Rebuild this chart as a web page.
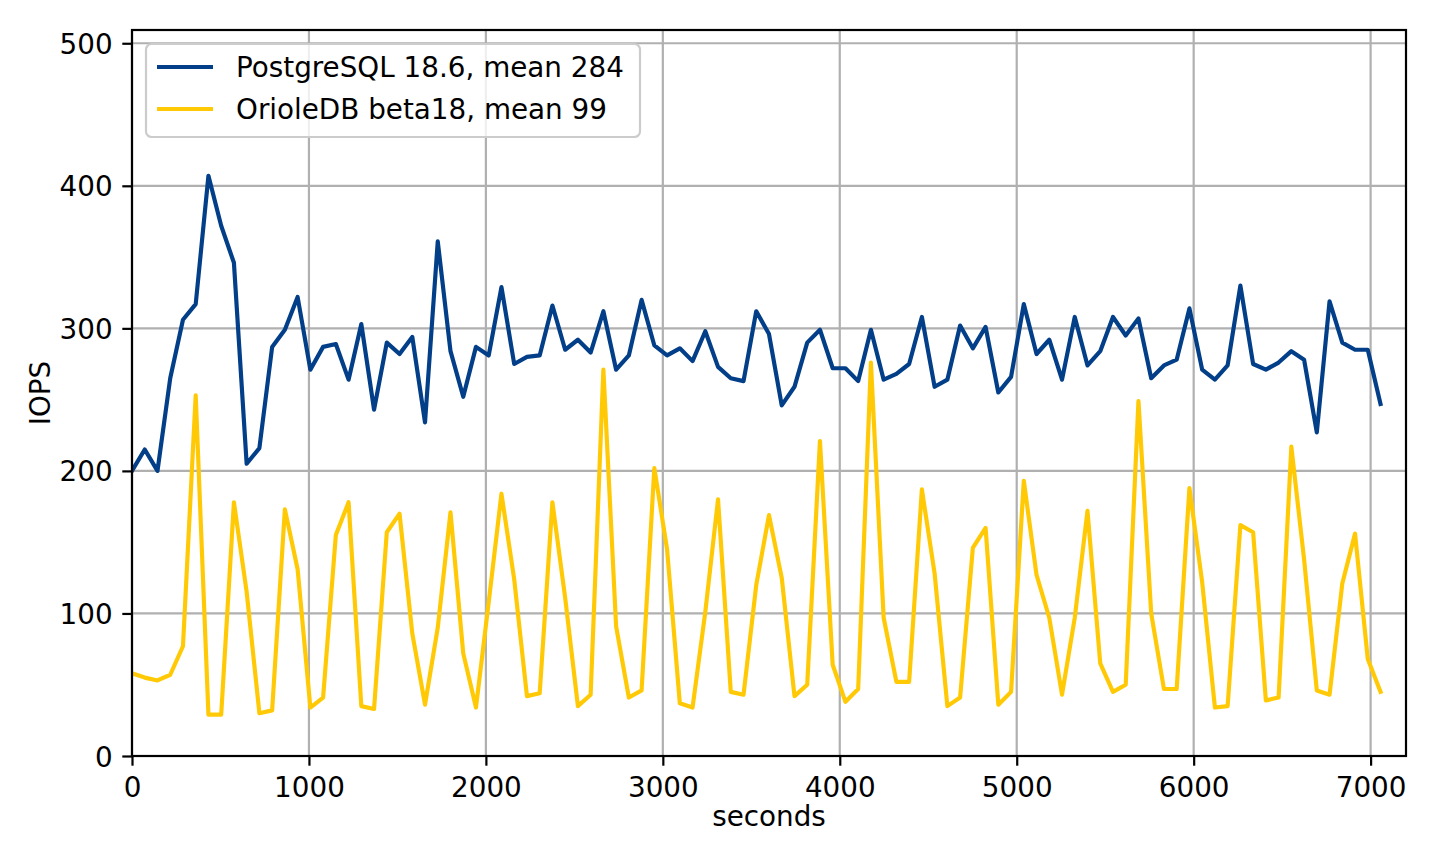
<!DOCTYPE html>
<html>
<head>
<meta charset="utf-8">
<script src="https://cdn.jsdelivr.net/npm/d3@7"></script>
<style>
  html, body { margin: 0; padding: 0; background: #fff; }
  #chart { width: 1440px; height: 864px; }
  text { font-family: "DejaVu Sans", sans-serif; fill: #000; }
</style>
</head>
<body>
<div id="chart"></div>
<script>
const stepSeconds = 72;
const postgresValues = [
  200, 215, 200, 265, 306, 317, 407, 372, 346, 205,
  216, 287, 299, 322, 271, 287, 289, 264, 303, 243,
  290, 282, 294, 234, 361, 284, 252, 287, 281, 329,
  275, 280, 281, 316, 285, 292, 283, 312, 271, 281,
  320, 288, 281, 286, 277, 298, 273, 265, 263, 312,
  296, 246, 259, 290, 299, 272, 272, 263, 299, 264,
  268, 275, 308, 259, 264, 302, 286, 301, 255, 266,
  317, 282, 292, 264, 308, 274, 284, 308, 295, 307,
  265, 274, 278, 314, 271, 264, 274, 330, 275, 271,
  276, 284, 278, 227, 319, 290, 285, 285, 247,
];
const orioleValues = [
  58, 55, 53, 57, 77, 253, 29, 29, 178, 115,
  30, 32, 173, 131, 34, 41, 155, 178, 35, 33,
  157, 170, 86, 36, 90, 171, 72, 34, 108, 184,
  124, 42, 44, 178, 111, 35, 43, 271, 91, 41,
  46, 202, 145, 37, 34, 101, 180, 45, 43, 120,
  169, 125, 42, 50, 221, 64, 38, 47, 276, 97,
  52, 52, 187, 128, 35, 41, 146, 160, 36, 45,
  193, 127, 97, 43, 97, 172, 65, 45, 50, 249,
  100, 47, 47, 188, 122, 34, 35, 162, 157, 39,
  41, 217, 138, 46, 43, 121, 156, 68, 45,
];
const seriesNames = ["PostgreSQL 18.6, mean 284", "OrioleDB beta18, mean 99"];
const seriesColors = ["#023f88", "#ffca05"];
const xTicks = [0, 1000, 2000, 3000, 4000, 5000, 6000, 7000];
const yTicks = [0, 100, 200, 300, 400, 500];

const width = 1440;
const height = 864;
const margin = { left: 132, right: 34, top: 30, bottom: 108 };
const fs = 27.8;

const svg = d3
  .select("#chart")
  .append("svg")
  .attr("width", width)
  .attr("height", height);

const x = d3
  .scaleLinear()
  .domain([0, 7200])
  .range([margin.left, width - margin.right]);
const y = d3
  .scaleLinear()
  .domain([0, 509.3])
  .range([height - margin.bottom, margin.top]);

const series = [postgresValues, orioleValues].map((vals, k) => ({
  name: seriesNames[k],
  color: seriesColors[k],
  points: vals.map((v, i) => [i * stepSeconds, v]),
}));

svg
  .append("defs")
  .append("clipPath")
  .attr("id", "plot-clip")
  .append("rect")
  .attr("x", x.range()[0])
  .attr("y", y.range()[1])
  .attr("width", x.range()[1] - x.range()[0])
  .attr("height", y.range()[0] - y.range()[1]);

const grid = svg.append("g").attr("class", "grid");
grid
  .selectAll(".vgrid")
  .data(xTicks)
  .enter()
  .append("line")
  .attr("x1", (d) => x(d))
  .attr("x2", (d) => x(d))
  .attr("y1", y.range()[0])
  .attr("y2", y.range()[1])
  .attr("stroke", "#b0b0b0")
  .attr("stroke-width", 2.2);
grid
  .selectAll(".hgrid")
  .data(yTicks)
  .enter()
  .append("line")
  .attr("x1", x.range()[0])
  .attr("x2", x.range()[1])
  .attr("y1", (d) => y(d))
  .attr("y2", (d) => y(d))
  .attr("stroke", "#b0b0b0")
  .attr("stroke-width", 2.2);

const line = d3
  .line()
  .x((d) => x(d[0]))
  .y((d) => y(d[1]));

svg
  .append("g")
  .attr("clip-path", "url(#plot-clip)")
  .selectAll(".series")
  .data(series)
  .enter()
  .append("path")
  .attr("fill", "none")
  .attr("stroke", (d) => d.color)
  .attr("stroke-width", 4.17)
  .attr("stroke-linejoin", "round")
  .attr("stroke-linecap", "square")
  .attr("d", (d) => line(d.points));

const xAxis = svg
  .append("g")
  .attr("transform", `translate(0,${y.range()[0]})`)
  .call(
    d3
      .axisBottom(x)
      .tickValues(xTicks)
      .tickFormat(d3.format("d"))
      .tickSize(9.7)
      .tickPadding(9.7)
  );
const yAxis = svg
  .append("g")
  .attr("transform", `translate(${x.range()[0]},0)`)
  .call(
    d3
      .axisLeft(y)
      .tickValues(yTicks)
      .tickFormat(d3.format("d"))
      .tickSize(9.7)
      .tickPadding(9.7)
  );

[xAxis, yAxis].forEach((a) => {
  a.select(".domain").remove();
  a.selectAll(".tick line").attr("stroke", "#000").attr("stroke-width", 2.2);
  a.selectAll(".tick text")
    .attr("font-family", "DejaVu Sans")
    .attr("font-size", fs)
    .attr("fill", "#000");
});
xAxis.selectAll(".tick text").attr("dy", "0.76em");
yAxis.selectAll(".tick text").attr("dy", "0.36em");

svg
  .append("rect")
  .attr("x", x.range()[0])
  .attr("y", y.range()[1])
  .attr("width", x.range()[1] - x.range()[0])
  .attr("height", y.range()[0] - y.range()[1])
  .attr("fill", "none")
  .attr("stroke", "#000")
  .attr("stroke-width", 2.2);

svg
  .append("text")
  .attr("x", (x.range()[0] + x.range()[1]) / 2)
  .attr("y", 826)
  .attr("text-anchor", "middle")
  .attr("font-size", fs)
  .text("seconds");

svg
  .append("text")
  .attr("transform", `translate(50,${(y.range()[0] + y.range()[1]) / 2}) rotate(-90)`)
  .attr("text-anchor", "middle")
  .attr("font-size", fs)
  .text("IOPS");

const legend = svg.append("g").attr("class", "legend");
legend
  .append("rect")
  .attr("x", 146)
  .attr("y", 44)
  .attr("width", 494)
  .attr("height", 93)
  .attr("rx", 5.6)
  .attr("fill", "#fff")
  .attr("fill-opacity", 0.8)
  .attr("stroke", "#cccccc")
  .attr("stroke-width", 2.2);

const rowY = (i) => 67 + i * 42;
legend
  .selectAll(".handle")
  .data(series)
  .enter()
  .append("line")
  .attr("x1", 157)
  .attr("x2", 213)
  .attr("y1", (d, i) => rowY(i))
  .attr("y2", (d, i) => rowY(i))
  .attr("stroke", (d) => d.color)
  .attr("stroke-width", 4.17);
legend
  .selectAll(".label")
  .data(series)
  .enter()
  .append("text")
  .attr("x", 236)
  .attr("y", (d, i) => rowY(i) + 10)
  .attr("font-size", fs)
  .text((d) => d.name);
</script>
</body>
</html>
